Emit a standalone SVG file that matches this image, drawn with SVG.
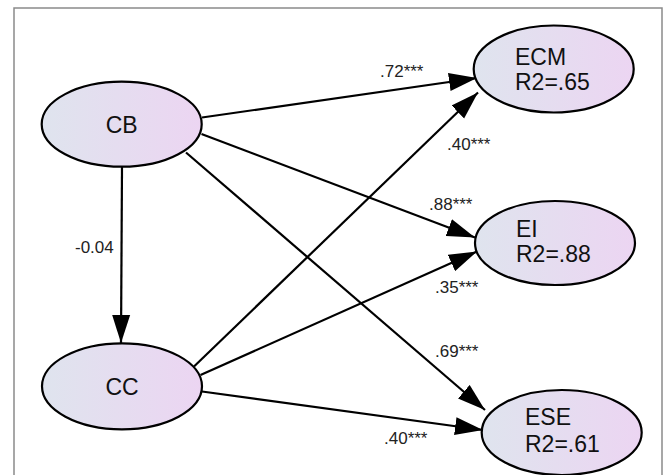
<svg xmlns="http://www.w3.org/2000/svg" width="669" height="475" viewBox="0 0 669 475">
<defs>
<linearGradient id="g" x1="0" y1="0" x2="1" y2="0">
<stop offset="0" stop-color="#dfe4ee"/>
<stop offset="1" stop-color="#ecd5f2"/>
</linearGradient>
<marker id="ah" markerUnits="userSpaceOnUse" markerWidth="29" markerHeight="19" refX="28" refY="9.5" orient="auto">
<path d="M0,0.5 L28,9.5 L0,18.5 z" fill="#000"/>
</marker>
<style>
.n{fill:url(#g);stroke:#000;stroke-width:2.2}
.t{font-family:"Liberation Sans",Arial,sans-serif;font-size:23px;fill:#111}
.c{stroke:#000;stroke-width:2.2;fill:none;marker-end:url(#ah)}
.l{font-family:"Liberation Sans",Arial,sans-serif;font-size:17px;fill:#222}
</style>
</defs>
<rect width="669" height="475" fill="#fff"/>
<rect x="14" y="8" width="648" height="480" fill="none" stroke="#8a8a8a" stroke-width="1.5"/>
<g id="connectors">
<line class="c" x1="202" y1="117.5" x2="477" y2="78"/>
<line class="c" x1="201.5" y1="134" x2="475" y2="237.5"/>
<line class="c" x1="186" y1="152.5" x2="485" y2="410"/>
<line class="c" x1="122" y1="167" x2="121" y2="343"/>
<line class="c" x1="194" y1="366.5" x2="478" y2="92.5"/>
<line class="c" x1="200.5" y1="375" x2="477" y2="251.5"/>
<line class="c" x1="202" y1="391.5" x2="483" y2="430"/>
</g>
<g id="labels">
<text class="l" x="380" y="77">.72***</text>
<text class="l" x="447" y="150">.40***</text>
<text class="l" x="429" y="209.5">.88***</text>
<text class="l" x="75" y="252.5">-0.04</text>
<text class="l" x="435" y="293">.35***</text>
<text class="l" x="435" y="357">.69***</text>
<text class="l" x="384" y="444">.40***</text>
</g>
<g id="CB">
<ellipse class="n" cx="121.7" cy="124.2" rx="80" ry="42.5"/>
<text class="t" x="121.7" y="132.5" text-anchor="middle">CB</text>
</g>
<g id="CC">
<ellipse class="n" cx="122" cy="386.3" rx="80" ry="43"/>
<text class="t" x="122" y="395" text-anchor="middle">CC</text>
</g>
<g id="ECM">
<ellipse class="n" cx="553.7" cy="69" rx="80" ry="43.5"/>
<text class="t" x="515" y="65">ECM</text>
<text class="t" x="515" y="90">R2=.65</text>
</g>
<g id="EI">
<ellipse class="n" cx="555" cy="243" rx="80" ry="42"/>
<text class="t" x="516" y="236.5">EI</text>
<text class="t" x="516" y="261.5">R2=.88</text>
</g>
<g id="ESE">
<ellipse class="n" cx="561.7" cy="432.5" rx="80" ry="42.5"/>
<text class="t" x="525" y="425">ESE</text>
<text class="t" x="525" y="451.5">R2=.61</text>
</g>
</svg>
